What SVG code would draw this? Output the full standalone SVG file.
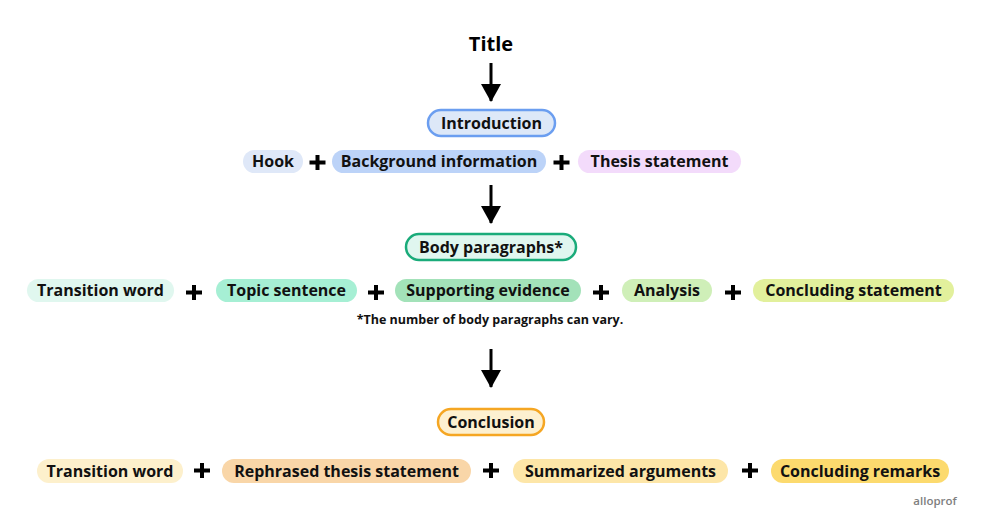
<svg xmlns="http://www.w3.org/2000/svg" width="999" height="528" viewBox="0 0 999 528">
<defs>
<marker id="ah" markerWidth="18" markerHeight="20" refX="17" refY="10" orient="auto" markerUnits="userSpaceOnUse" viewBox="0 0 18 20">
<path d="M0,0 L18,10 L0,20 Z" fill="#000"/>
</marker>
<style>
text{font-family:"Open Sans","Liberation Sans",sans-serif;font-weight:700;fill:#111;text-anchor:middle;}
.t{font-size:16px;}
.title{font-size:20px;fill:#000;}
.note{font-size:12.5px;}
.logo{font-size:11.5px;fill:#808080;font-weight:600;}
.plus{stroke:#000;stroke-width:4;fill:none;}
.conn{stroke:#000;stroke-width:3;fill:none;}
</style>
</defs>
<rect width="999" height="528" fill="#fff"/>

<g id="title"><text class="title" x="491" y="51">Title</text></g>

<g id="introduction">
<rect x="428" y="110" width="127" height="26" rx="13" fill="#dde8f8" stroke="#6b9ef0" stroke-width="2.5"/>
<text class="t" x="491.5" y="128.5">Introduction</text>
</g>
<g id="hook"><rect x="243" y="150" width="60" height="23" rx="11.5" fill="#dfe8f8"/><text class="t" x="273" y="167">Hook</text></g>
<g id="background"><rect x="332" y="150" width="214" height="23" rx="11.5" fill="#bcd3f8"/><text class="t" x="439" y="167">Background information</text></g>
<g id="thesis"><rect x="578" y="150" width="163" height="23" rx="11.5" fill="#f3dbfb"/><text class="t" x="659.5" y="167">Thesis statement</text></g>

<g id="body">
<rect x="406" y="234" width="170" height="26" rx="13" fill="#e0f6ef" stroke="#1aab7a" stroke-width="2.5"/>
<text class="t" x="491" y="252.5">Body paragraphs*</text>
</g>
<g id="bp-transition"><rect x="27" y="279" width="147" height="23" rx="11.5" fill="#e0f7ef"/><text class="t" x="100.5" y="296">Transition word</text></g>
<g id="bp-topic"><rect x="216" y="279" width="141" height="23" rx="11.5" fill="#a6efd4"/><text class="t" x="286.5" y="296">Topic sentence</text></g>
<g id="bp-support"><rect x="395" y="279" width="186" height="23" rx="11.5" fill="#a3e2b9"/><text class="t" x="488" y="296">Supporting evidence</text></g>
<g id="bp-analysis"><rect x="622" y="279" width="90" height="23" rx="11.5" fill="#cfefb8"/><text class="t" x="667" y="296">Analysis</text></g>
<g id="bp-concluding"><rect x="753" y="279" width="201" height="23" rx="11.5" fill="#e2f09c"/><text class="t" x="853.5" y="296">Concluding statement</text></g>
<g id="note"><text class="note" x="490" y="324">*The number of body paragraphs can vary.</text></g>

<g id="conclusion">
<rect x="438" y="409" width="106" height="26" rx="13" fill="#fdf0d0" stroke="#f5a623" stroke-width="2.5"/>
<text class="t" x="491" y="427.5">Conclusion</text>
</g>
<g id="c-transition"><rect x="37" y="459" width="146" height="24" rx="12" fill="#fdf0cc"/><text class="t" x="110" y="476.5">Transition word</text></g>
<g id="c-rephrased"><rect x="222" y="459" width="249" height="24" rx="12" fill="#f9d6a8"/><text class="t" x="346.5" y="476.5">Rephrased thesis statement</text></g>
<g id="c-summarized"><rect x="513" y="459" width="215" height="24" rx="12" fill="#fde6a8"/><text class="t" x="620.5" y="476.5">Summarized arguments</text></g>
<g id="c-remarks"><rect x="771" y="459" width="178" height="24" rx="12" fill="#fcda6e"/><text class="t" x="860" y="476.5">Concluding remarks</text></g>

<g id="plus-signs">
<path class="plus" d="M309.5,162.5 h16 M317.5,155 v15"/>
<path class="plus" d="M553.5,162.5 h16 M561.5,155 v15"/>
<path class="plus" d="M186,292.5 h16 M194,285 v15"/>
<path class="plus" d="M368,292.5 h16 M376,285 v15"/>
<path class="plus" d="M593,292.5 h16 M601,285 v15"/>
<path class="plus" d="M725,292.5 h16 M733,285 v15"/>
<path class="plus" d="M194,470.5 h16 M202,463 v15"/>
<path class="plus" d="M483,470.5 h16 M491,463 v15"/>
<path class="plus" d="M742,470.5 h16 M750,463 v15"/>
</g>

<g id="connectors">
<line class="conn" x1="491" y1="63" x2="491" y2="101" marker-end="url(#ah)"/>
<line class="conn" x1="491" y1="185" x2="491" y2="223" marker-end="url(#ah)"/>
<line class="conn" x1="491" y1="349" x2="491" y2="387" marker-end="url(#ah)"/>
</g>

<g id="logo"><text class="logo" x="935" y="505">alloprof</text></g>
</svg>
